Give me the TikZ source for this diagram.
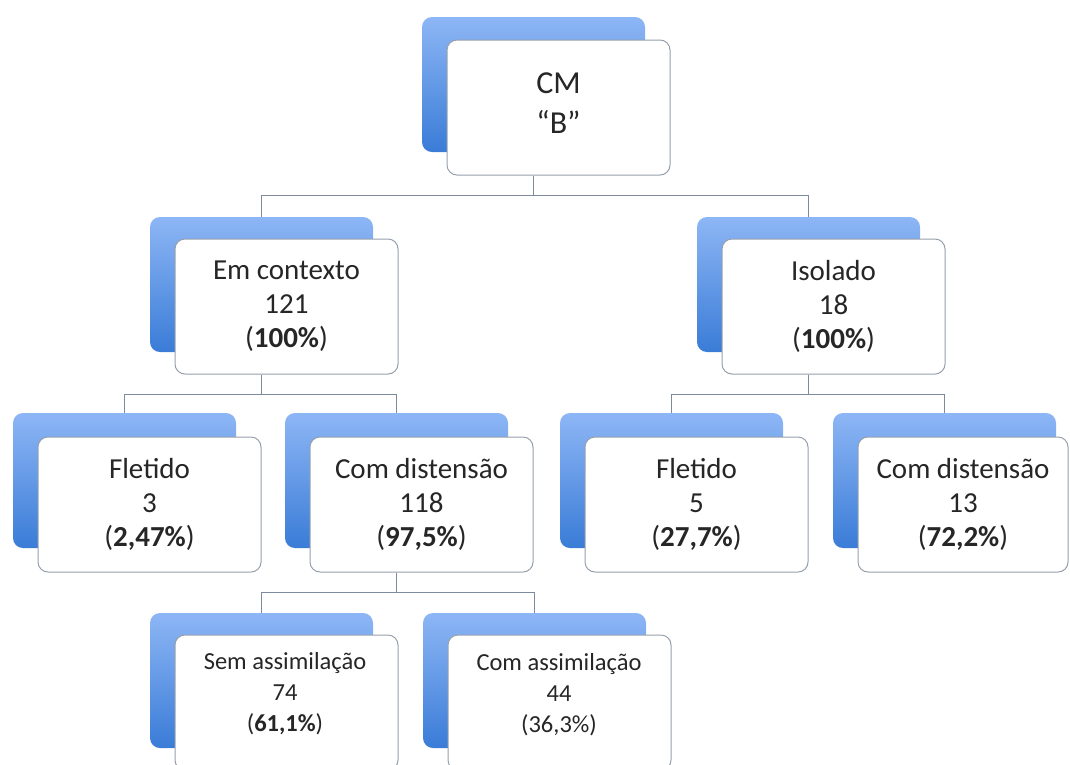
\documentclass[tikz,border=0pt]{standalone}
\usepackage{fontspec}
\setmainfont{Carlito}
\definecolor{connc}{RGB}{125,138,158}
\definecolor{boxline}{RGB}{150,160,172}
\definecolor{bluetop}{RGB}{141,182,245}
\definecolor{bluebot}{RGB}{58,124,215}
\definecolor{txt}{RGB}{38,38,38}
\tikzset{
  shadowbox/.style={rectangle, rounded corners=10pt, minimum width=223pt, minimum height=135pt, inner sep=0pt, top color=bluetop, bottom color=bluebot, draw=none},
  whitebox/.style={rectangle, rounded corners=10pt, minimum width=223pt, minimum height=135pt, inner sep=0pt, fill=white, draw=boxline, line width=1pt, align=center, text=txt},
  conn/.style={draw=connc, line width=1.1pt},
  lvA/.style={font=\fontsize{32}{40}\selectfont, align=center, text=txt, inner sep=0pt},
  lvB/.style={font=\fontsize{29}{34}\selectfont},
  lvC/.style={font=\fontsize{24.5}{31}\selectfont, align=center, text=txt, inner sep=0pt},
}
\begin{document}
\begin{tikzpicture}[x=1pt,y=-1pt]
\useasboundingbox (0,0) rectangle (1070,764);
% shadows
\node[shadowbox] (rootbg) at (533.5,84.5) {};
\node[shadowbox] (ctxbg) at (261.5,284.5) {};
\node[shadowbox] (isobg) at (808.5,284.5) {};
\node[shadowbox] (flLbg) at (124.5,480.5) {};
\node[shadowbox] (cdLbg) at (396.5,480.5) {};
\node[shadowbox] (flRbg) at (671.5,480.5) {};
\node[shadowbox] (cdRbg) at (944.5,480.5) {};
\node[shadowbox] (sembg) at (261.5,680.5) {};
\node[shadowbox] (combg) at (534.5,680.5) {};
% white boxes
\node[whitebox] (root) at (558.5,107.5) {};
\node[lvA] (roottxt) at (558.5,103) {CM\\“B”};
\node[whitebox, lvB] (ctx) at (286.5,306.5) {Em contexto\\121\\(\textbf{100\%})};
\node[whitebox, lvB] (iso) at (833.5,306.5) {Isolado\\18\\(\textbf{100\%})};
\node[whitebox, lvB] (flL) at (149.5,504.5) {Fletido\\3\\(\textbf{2,47\%})};
\node[whitebox, lvB] (cdL) at (421.5,504.5) {Com distensão\\118\\(\textbf{97,5\%})};
\node[whitebox, lvB] (flR) at (696.5,504.5) {Fletido\\5\\(\textbf{27,7\%})};
\node[whitebox, lvB, minimum width=210pt] (cdR) at (963,504.5) {Com distensão\\13\\(\textbf{72,2\%})};
\node[whitebox] (sem) at (286.5,702.5) {};
\node[whitebox] (com) at (559.5,702.5) {};
\node[lvC] (semtxt) at (285,694) {Sem assimilação\\74\\(\textbf{61,1\%})};
\node[lvC] (comtxt) at (559,695) {Com assimilação\\44\\(36,3\%)};
% connectors
\draw[conn] (root.south -| rootbg.center) -- ++(0,20) -| (ctxbg.north);
\draw[conn] (root.south -| rootbg.center) -- ++(0,20) -| (isobg.north);
\draw[conn] (ctx.south -| ctxbg.center) -- ++(0,20) -| (flLbg.north);
\draw[conn] (ctx.south -| ctxbg.center) -- ++(0,20) -| (cdLbg.north);
\draw[conn] (iso.south -| isobg.center) -- ++(0,20) -| (flRbg.north);
\draw[conn] (iso.south -| isobg.center) -- ++(0,20) -| (cdRbg.north);
\draw[conn] (cdL.south -| cdLbg.center) -- ++(0,20) -| (sembg.north);
\draw[conn] (cdL.south -| cdLbg.center) -- ++(0,20) -| (combg.north);
\end{tikzpicture}
\end{document}
